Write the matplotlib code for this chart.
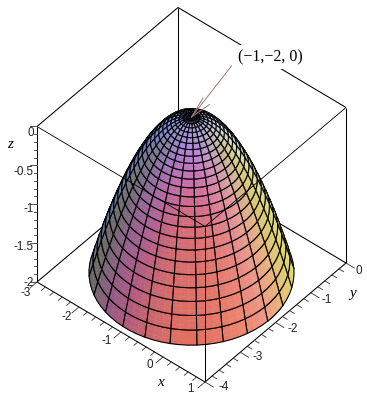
import numpy as np
import matplotlib
matplotlib.use("Agg")
import matplotlib.pyplot as plt
from matplotlib.collections import PolyCollection

# ---- data ----
apex = (-1.0, -2.0, 0.0)
ring_radius = [0, .075, .150, .224, .299, .374, .449, .524, .598, .673, .748, .823, .898,
               .972, 1.047, 1.122, 1.197, 1.272, 1.346, 1.421, 1.496, 1.571, 1.646, 1.720, 1.795, 1.870]
ring_z = [0, -.003, -.013, -.029, -.051, -.080, -.115, -.157, -.205, -.259, -.320, -.387, -.461,
          -.541, -.627, -.720, -.819, -.925, -1.037, -1.155, -1.280, -1.411, -1.549, -1.693, -1.843, -2.0]
sector_deg = [-2, 13, 28, 43, 58, 73, 88, 103, 118, 133, 148, 163, 178, 193, 208, 223, 238, 253,
              268, 283, 298, 313, 328, 343, 358]
x_ticks = [-3, -2, -1, 0, 1]
y_ticks = [0, -1, -2, -3, -4]
z_ticks = [0, -0.5, -1, -1.5, -2]
z_tick_labels = ["0", "-0.5", "-1", "-1.5", "-2"]
x_range = (-3, 1)
y_range = (-4, 0)
z_range = (-2, 0)
note = "(\u22121,\u22122, 0)"

# ---- box projection ----
EX = np.array([42.0, 25.0])
EY = np.array([35.25, -29.75])
EZ = np.array([0.0, -77.75])
O = np.array([205.0, 382.0])

def project(x, y, z):
    x, y, z = np.asarray(x, float), np.asarray(y, float), np.asarray(z, float)
    px = O[0] + EX[0]*(x-1) + EY[0]*(y+4) + EZ[0]*(z+2)
    py = O[1] + EX[1]*(x-1) + EY[1]*(y+4) + EZ[1]*(z+2)
    return px, py

right = np.array([42, 35.25, 0.0]); right /= np.linalg.norm(right)
up = np.array([-25, 29.75, 38.875]); up /= np.linalg.norm(up)
view = np.cross(right, up)

def shade(n):
    cx, cy, cz = n @ right, n @ up, n @ view
    s = abs(cx)
    r = 165 + 62*np.sign(cx)*s**1.5 + 115*max(0, -cy)
    g = np.interp(cy, [-.55, -.35, -.1, .2, .7], [112, 105, 130, 150, 175])
    g += 75*max(cx, 0)**1.5 - 40*max(-cx, 0)**2
    bf = np.interp(cy, [-.55, -.42, -.28, -.12, .7], [90, 120, 180, 215, 228])
    bs = np.interp(cy, [.1, .3, .5, .7], [92, 170, 210, 228])
    w = s**2
    b = (1-w)*bf + w*bs
    return np.clip([r/255, g/255, b/255], 0, 1)

def surf(r, t):
    t = np.radians(t)
    z = np.interp(r, ring_radius, ring_z)
    return np.array([apex[0] + r*np.cos(t), apex[1] + r*np.sin(t), z])

def box(p):
    return np.array([p[0], p[1], 2*p[2]])

SUB = 3
cells = []
for i in range(len(ring_radius)-1):
    for j in range(len(sector_deg)):
        r0, r1 = ring_radius[i], ring_radius[i+1]
        t0 = sector_deg[j]
        t1 = t0 + 15
        c = surf((r0+r1)/2, (t0+t1)/2)
        bc = box(c)
        a = box(surf(r1, t0)) - box(surf(r0, t1))
        b = box(surf(r1, t1)) - box(surf(r0, t0))
        n = np.cross(b, a)
        if n[2] < 0:
            n = -n
        n /= np.linalg.norm(n)
        if n @ view < -0.05:
            continue
        cells.append((bc @ view, r0, r1, t0, t1))
cells.sort(key=lambda c: c[0])

polys, faces, edges, widths = [], [], [], []
eps = 0.002
for _, r0, r1, t0, t1 in cells:
    rs = np.linspace(r0, r1, SUB+1)
    ts = np.linspace(t0, t1, SUB+1)
    for a in range(SUB):
        for b in range(SUB):
            quad = [surf(rs[a], ts[b]), surf(rs[a+1], ts[b]), surf(rs[a+1], ts[b+1]), surf(rs[a], ts[b+1])]
            px, py = project(*np.array(quad).T)
            polys.append(np.column_stack([px, py]))
            rm, tm = (rs[a]+rs[a+1])/2, (ts[b]+ts[b+1])/2
            pr = box(surf(rm+eps, tm)) - box(surf(rm-eps, tm))
            pt = box(surf(rm, tm+0.5)) - box(surf(rm, tm-0.5))
            n = np.cross(pr, pt)
            if n[2] < 0:
                n = -n
            n /= np.linalg.norm(n)
            col = shade(n)
            faces.append(col); edges.append(col); widths.append(0.3)
    outline = [surf(r, t0) for r in rs] + [surf(r1, t) for t in ts] + \
              [surf(r, t1) for r in rs[::-1]] + [surf(r0, t) for t in ts[::-1]]
    px, py = project(*np.array(outline).T)
    polys.append(np.column_stack([px, py]))
    faces.append((0, 0, 0, 0)); edges.append((0, 0, 0, 1)); widths.append(0.8)

fig = plt.figure(figsize=(3.67, 4.0), dpi=100)
ax = fig.add_axes([0, 0, 1, 1])
ax.set_xlim(0, 367); ax.set_ylim(400, 0); ax.axis("off")

def edge(a, b, z=2, lw=0.75):
    px, py = project(*np.array([a, b]).T)
    ax.plot(px, py, color="black", lw=lw, zorder=z, solid_capstyle="butt")

x0, x1 = x_range; y0, y1 = y_range; z0, z1 = z_range
edge((x0, y0, z1), (x0, y1, z1), 1)
edge((x0, y1, z1), (x1, y1, z1), 1)
edge((x0, y1, z1), (x0, y1, z0), 1)
edge((x0, y0, z0), (x0, y1, z0), 1)
edge((x0, y1, z0), (x1, y1, z0), 1)
edge((x0, y0, z0), (x0, y0, z1), 1)
edge((x1, y1, z0), (x1, y1, z1), 1)

ax.add_collection(PolyCollection(polys, facecolors=faces, edgecolors=edges, linewidths=widths, zorder=3))

edge((x0, y0, z1), (x1, y0, z1), 4, 0.6)
edge((x1, y0, z1), (x1, y1, z1), 4, 0.6)
edge((x1, y0, z0), (x1, y0, z1), 4)
edge((x0, y0, z0), (x1, y0, z0), 4)
edge((x1, y0, z0), (x1, y1, z0), 4)

TICK = "#333333"
for k, v in enumerate(np.arange(x0, x1+1e-6, 0.2)):
    L = 0.2 if k % 5 == 0 else 0.11
    px, py = project([v, v], [y0, y0-L], [z0, z0])
    ax.plot(px, py, color=TICK, lw=0.6, zorder=4)
for k, v in enumerate(np.arange(y0, y1+1e-6, 0.2)):
    L = 0.2 if k % 5 == 0 else 0.11
    px, py = project([x1, x1+L], [v, v], [z0, z0])
    ax.plot(px, py, color=TICK, lw=0.6, zorder=4)
for k, v in enumerate(np.arange(z0, z1+1e-6, 0.1)):
    L = 7 if k % 5 == 0 else 3.5
    px, py = project(x0, y0, v)
    ax.plot([px-L, px], [py, py], color=TICK, lw=0.6, zorder=4)

FS = 8.4
TC = "#222222"
SANS = "Liberation Sans"
x_off = [(-11, 10.5), (-12, 9.5), (-14, 9), (-13, 7.5), (-15, 6.5)]
for v, (dx, dy) in zip(x_ticks, x_off):
    px, py = project(v, y0, z0)
    ax.text(px+dx, py+dy, str(v), fontsize=FS, family=SANS, color=TC, ha="center", va="center")
y_off = [(9.5, 8), (11, 7), (11.5, 6.5), (12.5, 5), (13.5, 5)]
for v, (dx, dy) in zip(y_ticks, y_off):
    px, py = project(x1, v, z0)
    ax.text(px+dx, py+dy, str(v), fontsize=FS, family=SANS, color=TC, ha="left", va="center")
z_off = [6.5, 7, 5, 4, 1]
for v, s, dy in zip(z_ticks, z_tick_labels, z_off):
    px, py = project(x0, y0, v)
    ax.text(33.5, py+dy, s, fontsize=FS, family=SANS, color=TC, ha="right", va="center")

SERIF = "Liberation Serif"
ax.text(161, 382, "x", fontsize=11, family=SERIF, style="italic", ha="center", va="center")
ax.text(353, 294, "y", fontsize=11, family=SERIF, style="italic", ha="center", va="center")
ax.text(10, 145, "z", fontsize=11, family=SERIF, style="italic", ha="center", va="center")

tx, ty = project(*apex)
ARROW = "#9a7c7c"
ax.plot([tx+40, tx], [ty-51, ty], color=ARROW, lw=0.7, zorder=5)
ax.plot([tx+11.5, tx], [ty-19, ty], color=ARROW, lw=0.7, zorder=5)
ax.plot([tx+18, tx], [ty-12.5, ty], color=ARROW, lw=0.7, zorder=5)
ax.text(270.5, 57, note, fontsize=11.5, family=SERIF, ha="center", va="center", zorder=6,
        bbox=dict(facecolor="white", edgecolor="none", pad=3))

fig.savefig("out.png", dpi=100)
